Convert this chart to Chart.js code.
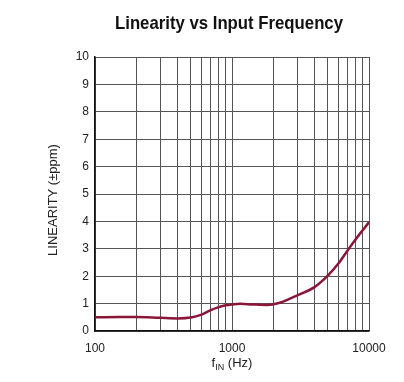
<!DOCTYPE html>
<html>
<head>
<meta charset="utf-8">
<script src="https://cdn.jsdelivr.net/npm/chart.js@4/dist/chart.umd.min.js"></script>
<style>
html,body{margin:0;padding:0;background:#fff;}
#wrap{width:404px;height:382px;}
</style>
</head>
<body>
<div id="wrap"><canvas id="c" width="404" height="382"></canvas></div>
<script>
const freqs = [100, 150, 200, 300, 400, 500, 600, 700, 800, 900, 1000, 1150, 1400, 1800, 2200, 2650, 3000, 4000, 5000, 6000, 7000, 8000, 9000, 10000];
const linearity = [0.50, 0.51, 0.51, 0.48, 0.46, 0.49, 0.60, 0.76, 0.87, 0.94, 0.97, 0.99, 0.97, 0.95, 1.02, 1.18, 1.30, 1.60, 2.02, 2.47, 2.95, 3.35, 3.68, 3.97];
const xGrid = [100,200,300,400,500,600,700,800,900,1000,2000,3000,4000,5000,6000,7000,8000,9000,10000];
const xLabels = [100, 1000, 10000];
const yTicks = [0,1,2,3,4,5,6,7,8,9,10];
const titleText = 'Linearity vs Input Frequency';
const yTitle = 'LINEARITY (±ppm)';

const labelsPlugin = {
  id: 'labels',
  afterDraw(chart) {
    const ctx = chart.ctx;
    const a = chart.chartArea;
    const cx = (a.left + a.right) / 2;
    ctx.save();
    ctx.fillStyle = '#111';
    ctx.textAlign = 'center';
    ctx.textBaseline = 'middle';
    ctx.font = 'bold 19px "Liberation Sans", Arial, sans-serif';
    const tw = ctx.measureText(titleText).width;
    const sx = 228 / tw;
    ctx.save();
    ctx.translate(cx - 3, 24);
    ctx.scale(sx, 1);
    ctx.fillText(titleText, 0, 0);
    ctx.restore();
    // y title
    ctx.save();
    ctx.translate(53, (a.top + a.bottom) / 2 + 6);
    ctx.rotate(-Math.PI / 2);
    ctx.font = '13px "Liberation Sans", Arial, sans-serif';
    ctx.fillStyle = '#222';
    ctx.fillText(yTitle, 0, 0);
    ctx.restore();
    // x title with subscript
    ctx.fillStyle = '#222';
    ctx.textAlign = 'left';
    ctx.textBaseline = 'alphabetic';
    const big = '13px "Liberation Sans", Arial, sans-serif';
    const small = '9px "Liberation Sans", Arial, sans-serif';
    ctx.font = big; const w1 = ctx.measureText('f').width;
    ctx.font = small; const w2 = ctx.measureText('IN').width;
    ctx.font = big; const w3 = ctx.measureText(' (Hz)').width;
    let x = cx - (w1 + w2 + w3) / 2;
    const base = 367;
    ctx.font = big; ctx.fillText('f', x, base); x += w1;
    ctx.font = small; ctx.fillText('IN', x, base + 3); x += w2;
    ctx.font = big; ctx.fillText(' (Hz)', x, base);
    ctx.restore();
  }
};

new Chart(document.getElementById('c'), {
  type: 'line',
  data: {
    datasets: [{
      data: freqs.map((f, i) => ({x: f, y: linearity[i]})),
      borderColor: '#8a1638',
      borderWidth: 2.5,
      pointRadius: 0,
      cubicInterpolationMode: 'monotone',
      fill: false
    }]
  },
  options: {
    responsive: false,
    animation: false,
    layout: {padding: {top: 57, right: 35, left: 0, bottom: 0}},
    plugins: {legend: {display: false}, title: {display: false}, tooltip: {enabled: false}},
    scales: {
      x: {
        type: 'logarithmic',
        min: 100, max: 10000,
        afterBuildTicks(s) { s.ticks = xGrid.map(v => ({value: v})); },
        afterFit(s) { s.height = 51; },
        grid: {color: '#555', lineWidth: 1, tickLength: 0, drawTicks: false},
        border: {color: '#111', width: 1.5},
        ticks: {
          autoSkip: false, maxRotation: 0, padding: 10,
          color: '#222',
          font: {family: '"Liberation Sans", Arial, sans-serif', size: 12},
          callback: (v) => xLabels.includes(v) ? String(v) : ''
        }
      },
      y: {
        min: 0, max: 10,
        afterBuildTicks(s) { s.ticks = yTicks.map(v => ({value: v})); },
        afterFit(s) { s.width = 95; },
        grid: {color: '#555', lineWidth: 1, tickLength: 0, drawTicks: false},
        border: {color: '#111', width: 1.5},
        ticks: {
          padding: 6,
          color: '#222',
          font: {family: '"Liberation Sans", Arial, sans-serif', size: 12}
        }
      }
    }
  },
  plugins: [labelsPlugin]
});
</script>
</body>
</html>
